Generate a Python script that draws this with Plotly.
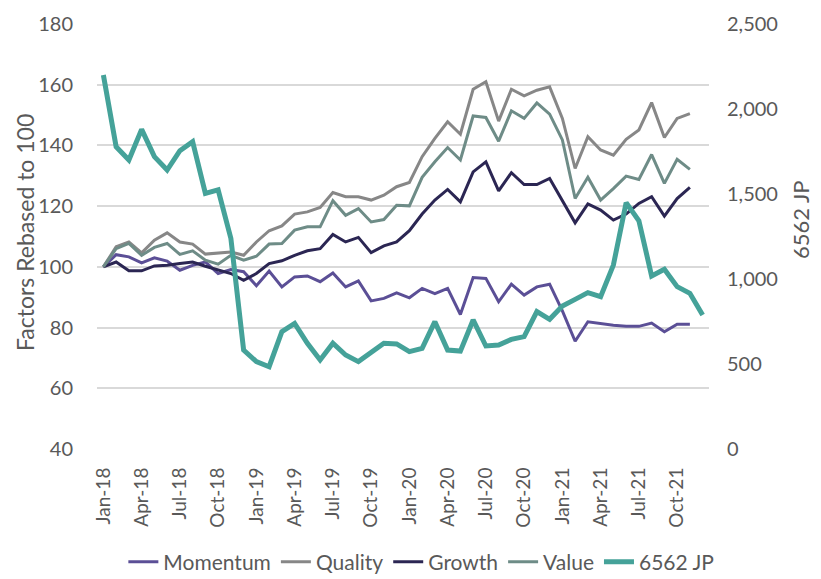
import plotly.graph_objects as go

months = ["Jan", "Feb", "Mar", "Apr", "May", "Jun", "Jul", "Aug", "Sep", "Oct", "Nov", "Dec"]
categories = [f"{m}-{y}" for y in ["18", "19", "20", "21"] for m in months]
tick_labels = [c for i, c in enumerate(categories) if i % 3 == 0]

momentum = [100, 104, 103.3, 101.3, 103, 101.9, 98.9, 100.5, 101.6, 97.8, 99.1, 98.4,
            93.8, 98.6, 93.4, 96.7, 97, 95.1, 98, 93.4, 95.4, 88.8, 89.6, 91.4,
            89.8, 92.9, 91.2, 92.9, 84.3, 96.5, 96.2, 88.5, 94.3, 90.7, 93.4, 94.3,
            85.5, 75.5, 81.9, 81.3, 80.8, 80.4, 80.4, 81.5, 78.6, 81.1, 81.1]
quality = [100, 106.6, 108.2, 104.6, 108.8, 111.2, 108.2, 107.5, 104.2, 104.6, 104.9, 103.8,
           108.2, 111.9, 113.5, 117.4, 118.1, 119.6, 124.5, 123.1, 123.1, 122, 123.6, 126.4,
           127.8, 136.3, 142.3, 147.8, 143.7, 158.5, 161, 148, 158.5, 156.3, 158.2, 159.3,
           148.9, 132.4, 142.9, 138.5, 136.8, 142, 145.1, 154.1, 142.6, 148.9, 150.5]
growth = [100, 101.6, 98.7, 98.7, 100.3, 100.5, 101.1, 101.6, 100.2, 98.9, 97.8, 95.6,
          97.8, 101.1, 102, 103.8, 105.3, 106, 110.7, 108.2, 109.7, 104.7, 106.9, 108.2,
          111.9, 117.4, 122, 125.5, 121.4, 131.3, 134.6, 125, 131, 127.1, 127.1, 129.1,
          122, 114.5, 120.7, 118.7, 115.4, 117.4, 120.9, 123.1, 116.7, 122.5, 126.2]
value = [100, 106, 107.7, 103.8, 106.4, 107.7, 104.1, 105.3, 102.2, 100.9, 103.8, 102.2,
         103.5, 107.5, 107.7, 112.1, 113.2, 113.2, 121.8, 117, 119.2, 114.8, 115.6, 120.3,
         120.1, 129.5, 134.6, 139.3, 135.2, 149.7, 149.2, 141.4, 151.4, 148.9, 154, 150.3,
         141.8, 122.5, 129.5, 122, 125.8, 129.9, 128.8, 137, 127.5, 135.4, 132.1]
jp6562 = [2200, 1778, 1700, 1880, 1720, 1641, 1755, 1808, 1504, 1524, 1239, 582,
          514, 484, 690, 739, 622, 524, 622, 553, 514, 567, 622, 618,
          573, 592, 749, 582, 576, 759, 606, 612, 645, 661, 808, 763,
          841, 880, 920, 896, 1082, 1449, 1343, 1018, 1057, 955, 916, 788]

FONT = "Lato"
GREY = "#595959"

fig = go.Figure()
factor_series = [
    ("Momentum", momentum, "#5b4f96"),
    ("Quality", quality, "#878787"),
    ("Growth", growth, "#2b2653"),
    ("Value", value, "#6e8c87"),
]
for name, vals, col in factor_series:
    fig.add_trace(go.Scatter(x=categories[:len(vals)], y=vals, name=name, mode="lines",
                             line=dict(color=col, width=3)))
fig.add_trace(go.Scatter(x=categories, y=jp6562, name="6562 JP", mode="lines",
                         line=dict(color="#45a299", width=5), yaxis="y2"))

fig.update_layout(
    width=821, height=579,
    margin=dict(l=97, r=112, t=24, b=130, autoexpand=False),
    paper_bgcolor="white", plot_bgcolor="white",
    font=dict(family=FONT, color=GREY, size=20),
    showlegend=True,
    legend=dict(orientation="h", x=0.53, xanchor="center", y=-0.266, yanchor="middle",
                font=dict(size=21, color=GREY), tracegroupgap=0),
    xaxis=dict(type="category", categoryorder="array", categoryarray=categories,
               range=[-0.5, 47.5], tickmode="array", tickvals=tick_labels, ticktext=tick_labels,
               tickangle=-90, showgrid=False, zeroline=False, showline=False, automargin=False,
               ticks="outside", ticklen=10, tickcolor="rgba(0,0,0,0)",
               tickfont=dict(size=19, color=GREY)),
    yaxis=dict(range=[40, 180], dtick=20, tick0=40, showgrid=True, gridcolor="#d9d9d9",
               gridwidth=1.5, zeroline=False, showline=False, automargin=False,
               ticks="outside", ticklen=19, tickcolor="rgba(0,0,0,0)",
               tickfont=dict(size=20, color=GREY)),
    yaxis2=dict(range=[0, 2500], dtick=500, tick0=0, overlaying="y", side="right",
                showgrid=False, zeroline=False, showline=False, tickformat=",", automargin=False,
                ticks="outside", ticklen=13, tickcolor="rgba(0,0,0,0)",
                tickfont=dict(size=20, color=GREY)),
    annotations=[
        dict(text="Factors Rebased to 100", xref="paper", yref="paper",
             x=(25 - 97) / 612, y=(449 - 233) / 425, xanchor="center", yanchor="middle",
             textangle=-90, showarrow=False, font=dict(size=23, color=GREY)),
        dict(text="6562 JP", xref="paper", yref="paper",
             x=(800 - 97) / 612, y=(449 - 220) / 425, xanchor="center", yanchor="middle",
             textangle=-90, showarrow=False, font=dict(size=22, color=GREY)),
    ],
)

fig.write_html("out.html", config={"displayModeBar": False},
               post_script="document.body.style.margin='0';document.body.style.padding='0';")
